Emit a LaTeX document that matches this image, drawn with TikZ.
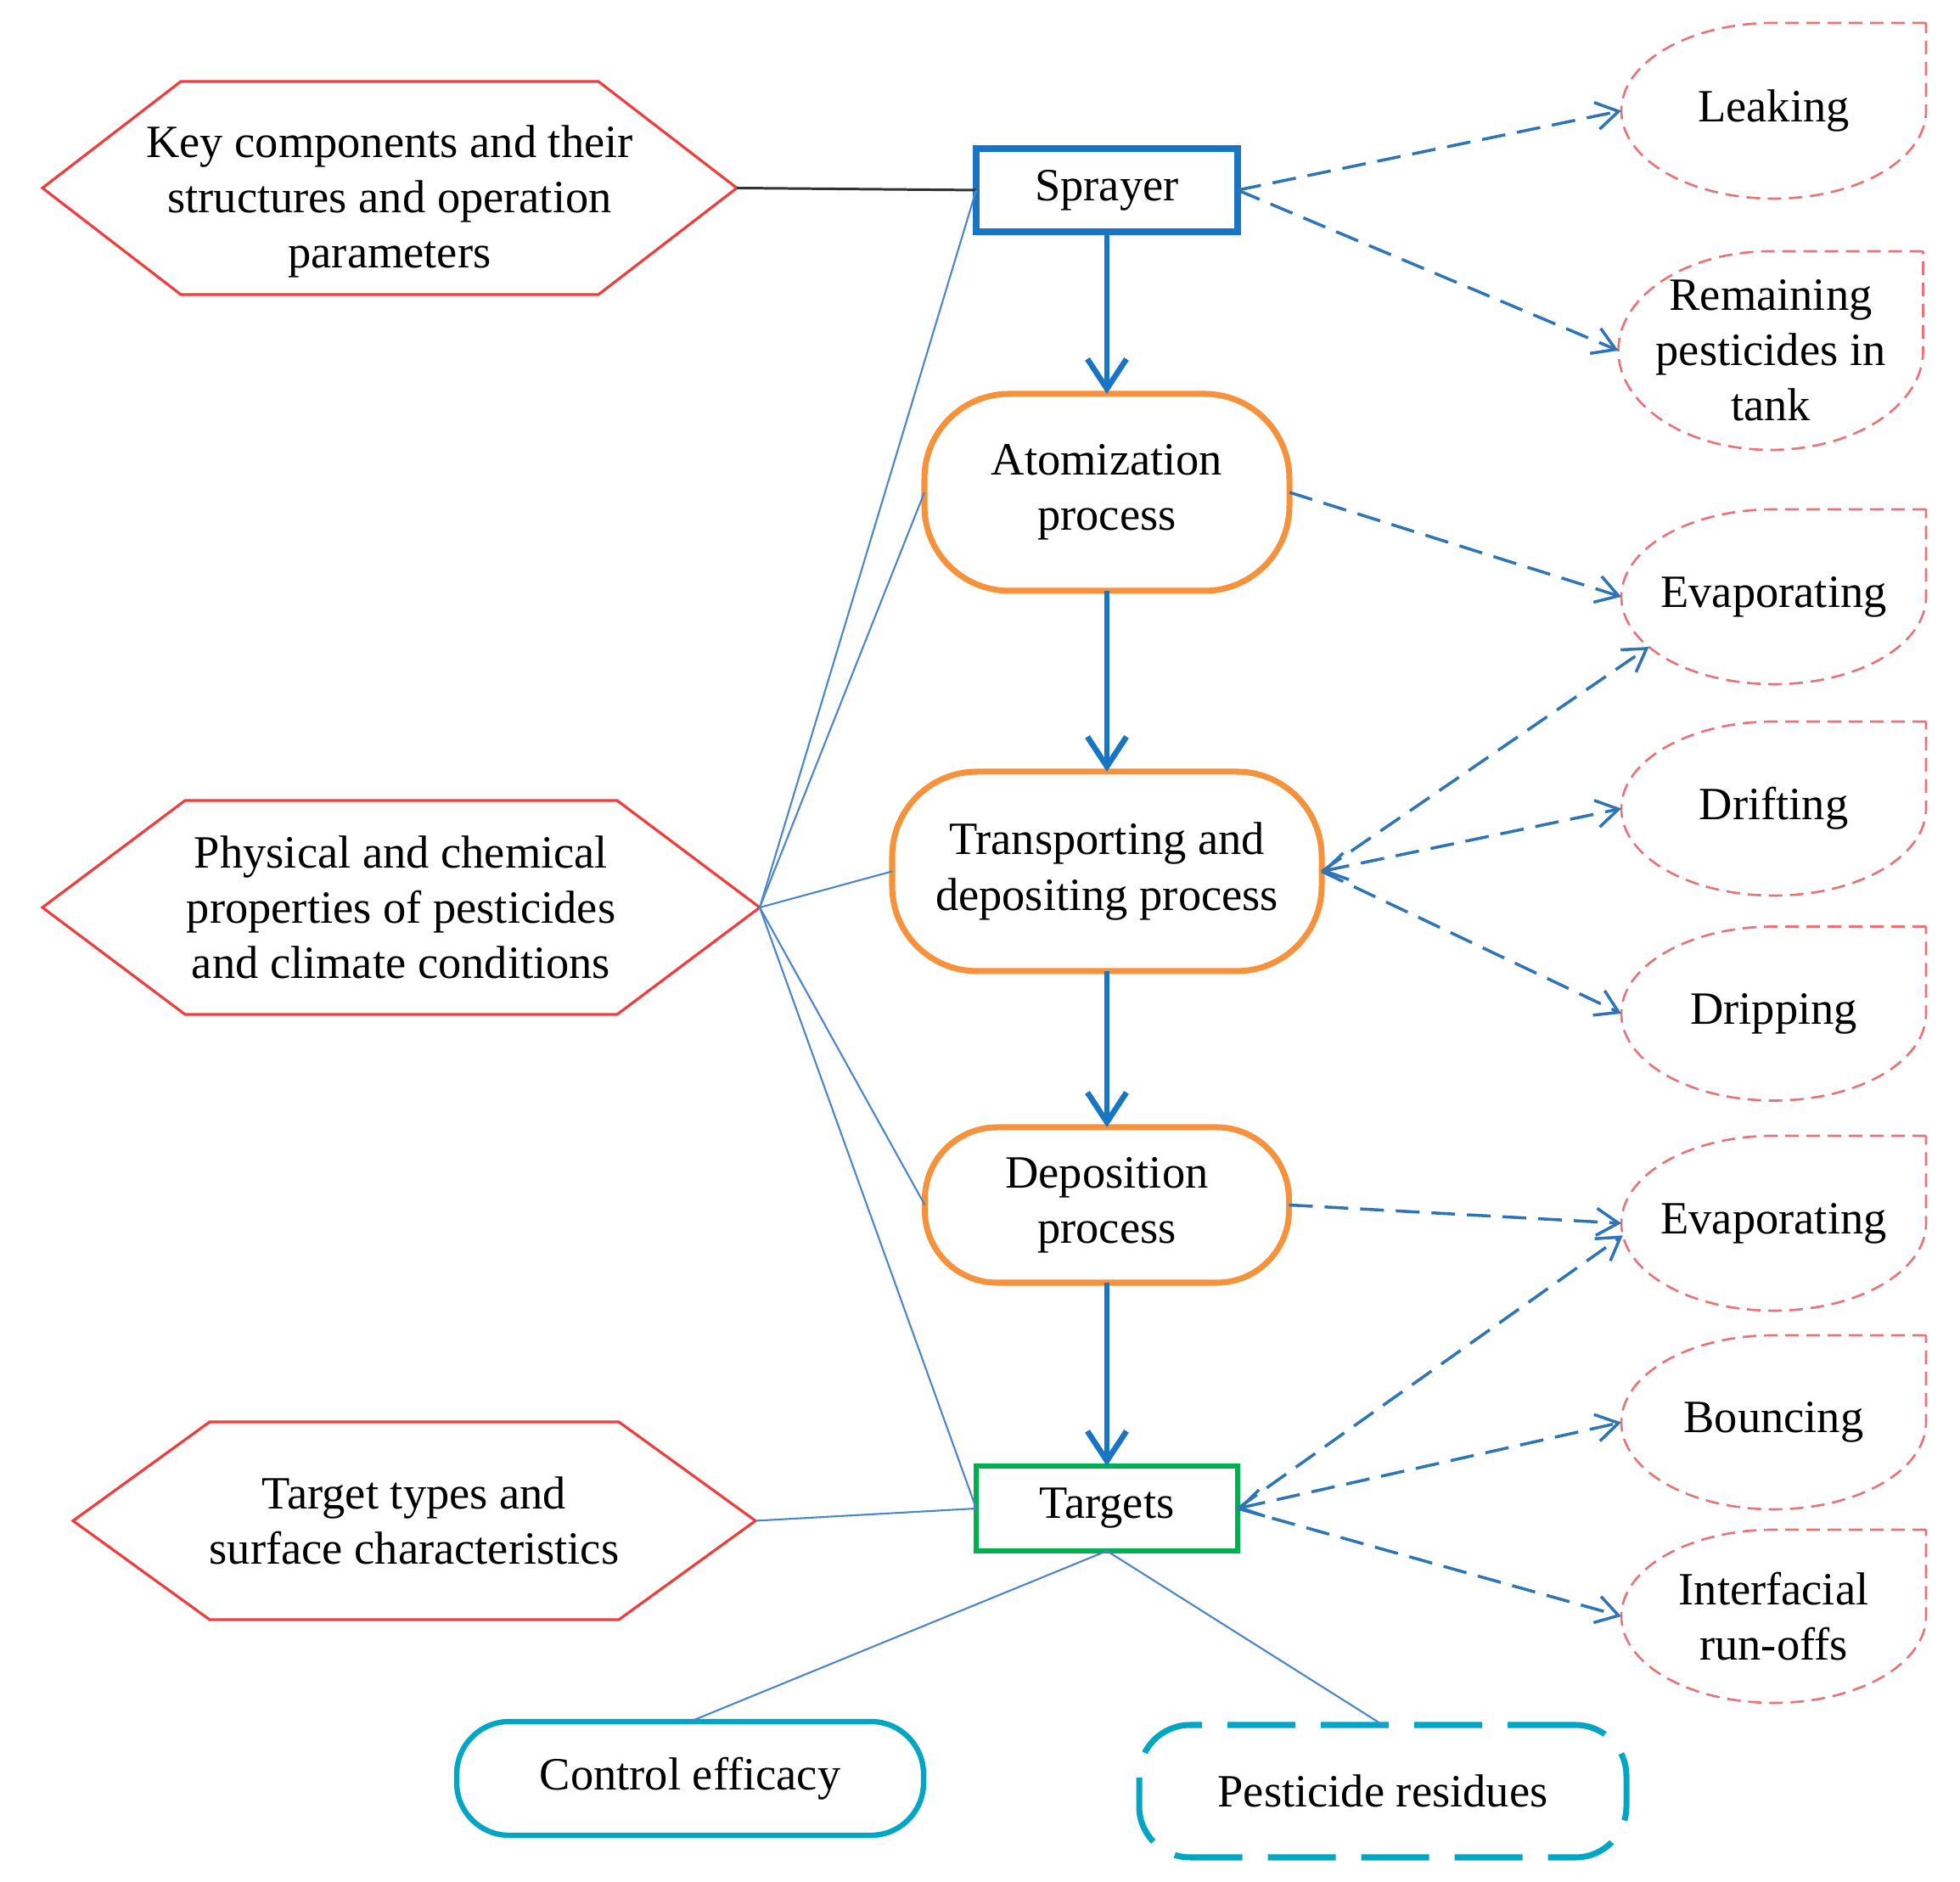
\documentclass[tikz,border=0pt]{standalone}
\usepackage{fontspec}
\setmainfont{Liberation Serif}
\usetikzlibrary{arrows.meta,calc}
\newcommand{\tf}{\fontsize{15.5}{18.5}\selectfont}
\definecolor{sprayblue}{RGB}{23,117,196}
\definecolor{procorange}{RGB}{247,146,60}
\definecolor{targgreen}{RGB}{0,176,80}
\definecolor{outteal}{RGB}{0,166,196}
\definecolor{hexred}{RGB}{240,60,60}
\definecolor{losspink}{RGB}{232,115,120}
\definecolor{lossblue}{RGB}{46,117,182}
\definecolor{linkblue}{RGB}{74,134,200}

\begin{document}
\begin{tikzpicture}[
    box/.style={inner sep=0pt, outer sep=0pt, align=center, font=\tf},
    proc/.style={box, draw=procorange, line width=2pt, rounded corners=1cm},
    hexline/.style={draw=hexred, line width=0.9pt},
    dropline/.style={draw=losspink, line width=0.75pt, dash pattern=on 1.6mm off 0.9mm},
    flow/.style={draw=sprayblue, line width=1.9pt, -{Straight Barb[length=3.5mm,width=4.6mm]}},
    loss/.style={draw=lossblue, line width=1pt, dash pattern=on 2.8mm off 1.4mm, -{Straight Barb[length=2.6mm,width=3.2mm]}},
    bothloss/.style={loss, {Straight Barb[length=2.6mm,width=3.2mm]}-{Straight Barb[length=2.6mm,width=3.2mm]}},
    link/.style={draw=linkblue, line width=0.6pt}
]
    \useasboundingbox (0,0) rectangle (23.09,22.17);

    % influencing factors (hexagons)
    \node [box, minimum width=8.18cm, minimum height=2.51cm] (key) at (4.59,19.795) {Key components and their\\structures and operation\\parameters};
    \node [box, minimum width=8.45cm, minimum height=2.52cm] (phys) at (4.725,11.48) {Physical and chemical\\properties of pesticides\\and climate conditions};
    \node [box, minimum width=8.04cm, minimum height=2.33cm] (targhex) at (4.88,4.255) {Target types and\\surface characteristics};
    \foreach \n/\d/\s in {key/1.63/0.16, phys/1.68/0, targhex/1.61/0}
        \draw [hexline] ([yshift=\s cm]\n.west) -- ([xshift=\d cm, yshift=\s cm]\n.north west) -- ([xshift=-\d cm, yshift=\s cm]\n.north east)
            -- ([yshift=\s cm]\n.east) -- ([xshift=-\d cm, yshift=\s cm]\n.south east) -- ([xshift=\d cm, yshift=\s cm]\n.south west) -- cycle;
    \coordinate (keytip) at ([yshift=0.16cm]key.east);

    % main chain
    \node [box, draw=sprayblue, line width=2.3pt, minimum width=3.08cm, minimum height=0.98cm] (sprayer) at (13.04,19.93) {Sprayer};
    \node [proc, minimum width=4.30cm, minimum height=2.32cm] (atom) at (13.04,16.37) {Atomization\\process};
    \node [proc, minimum width=5.06cm, minimum height=2.35cm] (trans) at (13.04,11.905) {Transporting and\\depositing process};
    \node [proc, minimum width=4.29cm, minimum height=1.83cm, rounded corners=0.85cm] (depo) at (13.04,7.975) {Deposition\\process};
    \node [box, draw=targgreen, line width=1.5pt, minimum width=3.08cm, minimum height=1.0cm] (targets) at (13.04,4.40) {Targets};

    % outcomes
    \node [box, draw=outteal, line width=1.8pt, rounded corners=0.62cm, minimum width=5.50cm, minimum height=1.34cm] (efficacy) at (8.13,1.22) {Control efficacy};
    \node [box, draw=outteal, line width=2pt, rounded corners=0.6cm, dash pattern=on 8mm off 3mm, minimum width=5.74cm, minimum height=1.56cm] (residue) at (16.29,1.07) {Pesticide residues};

    % losses (drop shapes)
    \node [box, minimum width=3.59cm, minimum height=2.07cm] (leak) at (20.895,20.865) {Leaking};
    \node [box, minimum width=3.59cm, minimum height=2.34cm] (remain) at (20.86,18.04) {Remaining\\pesticides in\\tank};
    \node [box, minimum width=3.59cm, minimum height=2.06cm] (evapA) at (20.895,15.14) {Evaporating};
    \node [box, minimum width=3.59cm, minimum height=2.05cm] (drift) at (20.895,12.645) {Drifting};
    \node [box, minimum width=3.59cm, minimum height=2.05cm] (drip) at (20.895,10.23) {Dripping};
    \node [box, minimum width=3.59cm, minimum height=2.06cm] (evapB) at (20.895,7.76) {Evaporating};
    \node [box, minimum width=3.59cm, minimum height=2.05cm] (bounce) at (20.895,5.415) {Bouncing};
    \node [box, minimum width=3.59cm, minimum height=2.04cm] (interf) at (20.895,3.13) {Interfacial\\run-offs};
    \foreach \n/\r in {leak/1.035, remain/1.17, evapA/1.03, drift/1.025, drip/1.025, evapB/1.03, bounce/1.025, interf/1.02}
        \draw [dropline] (\n.north east) -- (\n.north) arc [start angle=90, end angle=360, x radius=1.795cm, y radius=\r cm] -- cycle;

    % lines
    \draw [flow] (sprayer) -- (atom);
    \draw [flow] (atom) -- (trans);
    \draw [flow] (trans) -- (depo);
    \draw [flow] (depo) -- (targets);

    \draw [draw=black!80, line width=0.85pt] (keytip) -- (sprayer.west);
    \foreach \n in {sprayer, atom, trans, depo, targets}
        \draw [link] (phys.east) -- (\n.west);
    \draw [link] (targhex.east) -- (targets.west);
    \draw [link] (targets.south) -- (efficacy.north);
    \draw [link] (targets.south) -- (residue.north);

    \draw [loss] (sprayer.east) -- (leak.west);
    \draw [loss] (sprayer.east) -- (remain.west);
    \draw [loss] (atom.east) -- (evapA.west);
    \draw [loss] (trans.east) -- ($(evapA)+(215:1.795 and 1.03)$);
    \draw [bothloss] (trans.east) -- (drift.west);
    \draw [loss] (trans.east) -- (drip.west);
    \draw [loss] (depo.east) -- (evapB.west);
    \draw [loss] (targets.east) -- ($(evapB)+(188:1.795 and 1.03)$);
    \draw [bothloss] (targets.east) -- (bounce.west);
    \draw [loss] (targets.east) -- (interf.west);
\end{tikzpicture}
\end{document}
